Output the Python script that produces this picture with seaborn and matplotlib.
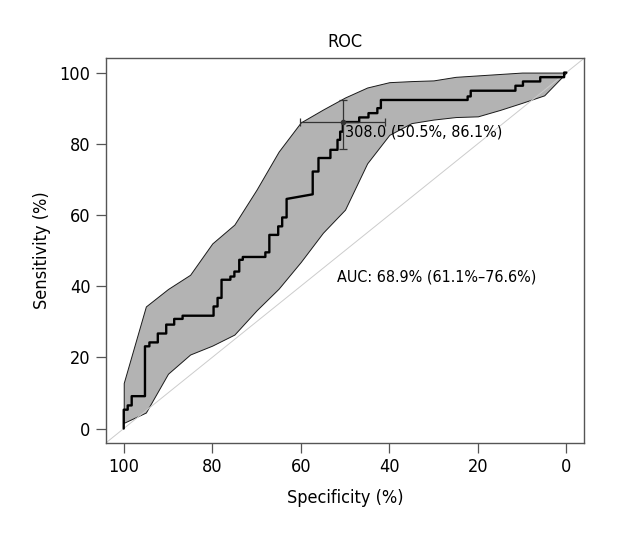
import matplotlib
matplotlib.use("Agg")
import matplotlib.pyplot as plt
import seaborn as sns
import numpy as np
import pandas as pd

sns.set_theme(style="white")
plt.rcParams['font.family'] = ['DejaVu Sans']
plt.rcParams['font.stretch'] = 'condensed'
plt.rcParams['text.color'] = 'black'
plt.rcParams['axes.labelcolor'] = 'black'
plt.rcParams['xtick.color'] = 'black'
plt.rcParams['ytick.color'] = 'black'

# ROC curve vertices (specificity %, sensitivity %)
roc_spec = [100, 100, 99.1, 99.1, 98.2, 98.2, 95.2, 95.2, 94.2, 94.2, 92.3, 92.3,
            90.4, 90.4, 88.6, 88.6, 86.7, 86.7, 79.7, 79.7, 78.8, 78.8, 77.9, 77.9,
            75.9, 75.9, 75.0, 75.0, 73.9, 73.9, 73.1, 73.1, 68.0, 68.0, 67.1, 67.1,
            65.1, 65.1, 64.2, 64.2, 63.2, 63.2, 57.3, 57.3, 56.0, 56.0, 53.3, 53.3,
            51.7, 51.7, 51.1, 51.1, 50.5, 50.5, 46.8, 46.8, 44.7, 44.7, 42.7, 42.7,
            41.9, 41.9, 22.3, 22.3, 21.6, 21.6, 11.5, 11.5, 9.8, 9.8, 5.9, 5.9,
            0.5, 0.5, 0]
roc_sens = [0, 5.3, 5.3, 6.5, 6.5, 9.1, 9.1, 23.1, 23.1, 24.2, 24.2, 26.7,
            26.7, 29.2, 29.2, 30.8, 30.8, 31.7, 31.7, 34.3, 34.3, 36.7, 36.7, 41.8,
            41.8, 42.7, 42.7, 44.1, 44.1, 47.4, 47.4, 48.2, 48.2, 49.5, 49.5, 54.4,
            54.4, 56.8, 56.8, 59.3, 59.3, 64.5, 65.8, 72.2, 72.2, 76.0, 76.0, 78.3,
            78.3, 81.1, 81.1, 83.4, 83.4, 86.1, 86.1, 87.4, 87.4, 88.6, 88.6, 90.0,
            90.0, 92.3, 92.3, 93.3, 93.3, 94.9, 94.9, 96.3, 96.3, 97.5, 97.5, 98.7,
            98.7, 100, 100]

# confidence band of sensitivity
band_spec = [100, 95, 90, 85, 80, 75, 70, 65, 60, 55, 50, 45, 40, 35, 30, 25, 20, 15, 10, 5, 0]
band_upper = [12.8, 34.3, 39.2, 43.2, 52.0, 57.3, 67.1, 77.8, 86.0, 89.6, 93.0, 95.8,
              97.3, 97.6, 97.8, 98.8, 99.2, 99.6, 100, 100, 100]
band_lower = [1.6, 4.5, 15.4, 20.8, 23.3, 26.4, 33.2, 39.3, 46.8, 55.0, 61.5, 74.5,
              82.5, 85.8, 86.8, 87.5, 87.7, 89.5, 91.5, 93.6, 100]

# best threshold with its CI
thr_label = "308.0 (50.5%, 86.1%)"
thr_spec, thr_sens = 50.5, 86.1
thr_spec_ci = [40.9, 60.2]
thr_sens_ci = [78.6, 92.3]
auc_label = "AUC: 68.9% (61.1%\u201376.6%)"

roc = pd.DataFrame({'spec': roc_spec, 'sens': roc_sens})

fig = plt.figure(figsize=(6.2, 5.4), dpi=100)
ax = fig.add_axes([0.171, 0.180, 0.771, 0.712])

ax.fill_between(band_spec, band_lower, band_upper, facecolor='#b3b3b3',
                edgecolor='#1a1a1a', linewidth=0.7, zorder=1)
ax.axline((100, 0), (0, 100), color='#cccccc', linewidth=0.7, zorder=2)
sns.lineplot(data=roc, x='spec', y='sens', sort=False, estimator=None,
             color='black', linewidth=1.7, ax=ax, zorder=3)

ax.errorbar([thr_spec], [thr_sens],
            xerr=[[thr_spec - thr_spec_ci[0]], [thr_spec_ci[1] - thr_spec]],
            yerr=[[thr_sens - thr_sens_ci[0]], [thr_sens_ci[1] - thr_sens]],
            fmt='o', ms=3, color='#333333', elinewidth=0.9, capsize=3,
            capthick=0.9, zorder=4)
ax.text(thr_spec - 0.6, thr_sens - 0.8, thr_label, ha='left', va='top',
        fontsize=11.5, zorder=5)
ax.text(51.8, 42.7, auc_label, ha='left', va='center', fontsize=11.5)

ax.set_xlim(104, -4)
ax.set_ylim(-4, 104)
ax.set_xticks([100, 80, 60, 40, 20, 0])
ax.set_yticks([0, 20, 40, 60, 80, 100])
ax.tick_params(axis='both', direction='out', length=7, width=0.9, color='#555555',
               labelsize=13, pad=4, left=True, bottom=True)
for s in ax.spines.values():
    s.set_color('#555555')
    s.set_linewidth(1.0)

ax.set_title("ROC", fontsize=13, pad=8)
ax.set_xlabel("Specificity (%)", fontsize=13, labelpad=9)
ax.set_ylabel("Sensitivity (%)", fontsize=13, labelpad=6)

fig.savefig("out.png", dpi=100, facecolor='white')
